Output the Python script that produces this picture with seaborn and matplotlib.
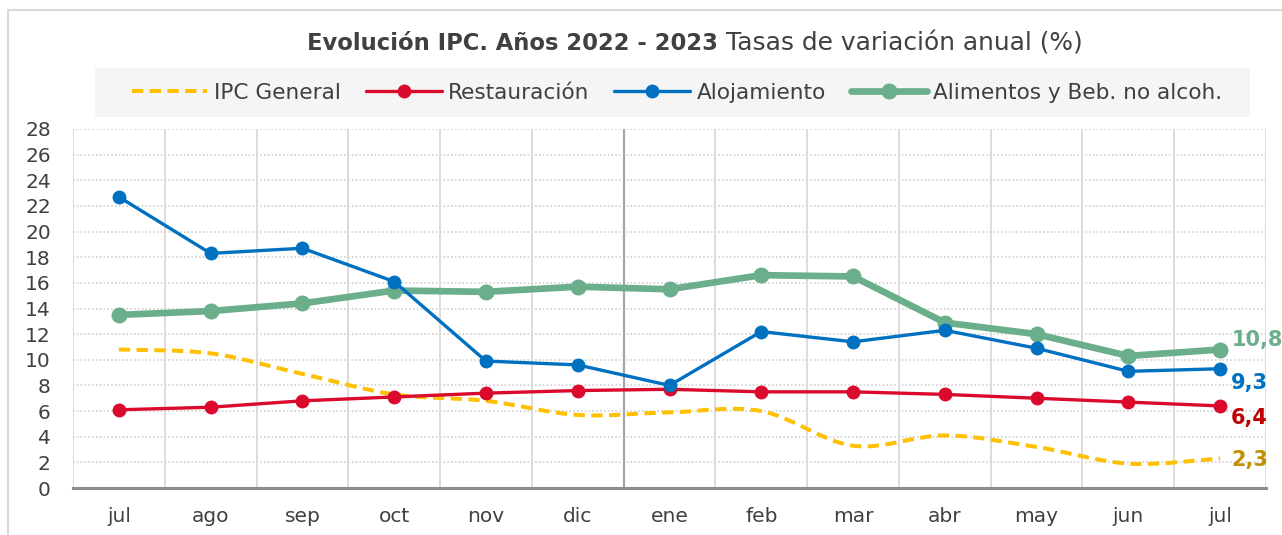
import numpy as np
import pandas as pd
import seaborn as sns
import matplotlib.pyplot as plt
from matplotlib.lines import Line2D
from matplotlib.path import Path
from matplotlib.patches import PathPatch, Rectangle

months = ['jul', 'ago', 'sep', 'oct', 'nov', 'dic', 'ene', 'feb', 'mar', 'abr', 'may', 'jun', 'jul']
ipc_general = [10.8, 10.5, 8.9, 7.3, 6.8, 5.7, 5.9, 6.0, 3.3, 4.1, 3.2, 1.9, 2.3]
restauracion = [6.1, 6.3, 6.8, 7.1, 7.4, 7.6, 7.7, 7.5, 7.5, 7.3, 7.0, 6.7, 6.4]
alojamiento = [22.7, 18.3, 18.7, 16.1, 9.9, 9.6, 8.0, 12.2, 11.4, 12.3, 10.9, 9.1, 9.3]
alimentos = [13.5, 13.8, 14.4, 15.4, 15.3, 15.7, 15.5, 16.6, 16.5, 12.9, 12.0, 10.3, 10.8]

C_IPC = '#FFC000'
C_RES = '#D90A2C'
C_ALO = '#0070C0'
C_ALI = '#6AAE8C'
TXT = '#404040'
DASH = (0, (2.8, 1.6))

sns.set_theme(style='white')
plt.rcParams['font.family'] = ['DejaVu Sans']

fig = plt.figure(figsize=(12.82, 5.35), dpi=100)
ax = fig.add_axes([73 / 1282, 1 - 488 / 535, (1266 - 73) / 1282, (488 - 129) / 535])

pos = np.arange(len(months))
df = pd.DataFrame({'pos': pos, 'res': restauracion, 'alo': alojamiento, 'ali': alimentos})

# IPC General: smoothed dashed line (Excel-style bezier between the points)
pts = np.column_stack([pos, ipc_general]).astype(float)
verts = [pts[0]]
codes = [Path.MOVETO]
for i in range(len(pts) - 1):
    p0 = pts[max(i - 1, 0)]
    p1, p2 = pts[i], pts[i + 1]
    p3 = pts[min(i + 2, len(pts) - 1)]
    verts += [p1 + (p2 - p0) / 6, p2 - (p3 - p1) / 6, p2]
    codes += [Path.CURVE4] * 3
ax.add_patch(PathPatch(Path(verts, codes), fill=False, edgecolor=C_IPC, lw=2.9,
                       linestyle=DASH, capstyle='butt', zorder=3))

sns.lineplot(data=df, x='pos', y='res', ax=ax, color=C_RES, lw=2.4, marker='o',
             markersize=10, markeredgewidth=0, zorder=4)
sns.lineplot(data=df, x='pos', y='alo', ax=ax, color=C_ALO, lw=2.4, marker='o',
             markersize=10, markeredgewidth=0, zorder=5)
sns.lineplot(data=df, x='pos', y='ali', ax=ax, color=C_ALI, lw=4.8, marker='o',
             markersize=11.5, markeredgewidth=0, zorder=4)

ax.set_xlim(-0.5, len(months) - 0.5)
ax.set_ylim(0, 28)
ax.set_yticks(range(0, 29, 2))
ax.set_xticks(pos)
ax.set_xticklabels(months)
ax.set_xlabel('')
ax.set_ylabel('')
ax.tick_params(axis='both', labelsize=14.5, colors=TXT, length=0)
ax.tick_params(axis='x', pad=14)
ax.tick_params(axis='y', pad=16)

for y in range(2, 29, 2):
    ax.axhline(y, color='#C8C8C8', lw=1.1, ls=(0, (1, 1.5)), zorder=1)
for x in np.arange(-0.5, len(months), 1.0):
    ax.axvline(x, color='#D9D9D9', lw=1.3, zorder=1)
ax.axvline(5.5, color='#A6A6A6', lw=1.6, zorder=2)

for s in ['top', 'right', 'left']:
    ax.spines[s].set_visible(False)
ax.spines['bottom'].set_color('#8C8C8C')
ax.spines['bottom'].set_linewidth(2.2)
ax.spines['bottom'].set_zorder(6)

# last value labels
last = len(months) - 1
for vals, col, dy in [(alimentos, C_ALI, 7), (alojamiento, '#0070C0', -10),
                      (restauracion, '#C00000', -9), (ipc_general, '#BF9000', -1)]:
    ax.annotate(f'{vals[-1]:.1f}'.replace('.', ','), (last, vals[-1]),
                xytext=(8, dy), textcoords='offset points', ha='left', va='center',
                fontsize=15, fontweight='bold', color=col, annotation_clip=False)

# outer frame
fig.patches.append(Rectangle((8 / 1282, -0.05), 1.2, 1 - 10 / 535 + 0.05,
                             transform=fig.transFigure, fill=False,
                             edgecolor='#D9D9D9', lw=1.5, zorder=0))

# title
fig.text(718 / 1282, 1 - 44 / 535, 'Evolución IPC. Años 2022 - 2023', ha='right', va='center',
         fontsize=16.3, fontweight='bold', color=TXT)
fig.text(726 / 1282, 1 - 44 / 535, 'Tasas de variación anual (%)', ha='left', va='center',
         fontsize=17.9, color=TXT)

# legend
fig.patches.append(Rectangle((95 / 1282, 1 - 117 / 535), (1250 - 95) / 1282, 49 / 535,
                             transform=fig.transFigure, facecolor='#F5F5F5',
                             edgecolor='none', zorder=0))
handles = [
    Line2D([], [], color=C_IPC, lw=2.9, ls=DASH, dash_capstyle='butt'),
    Line2D([], [], color=C_RES, lw=2.4, marker='o', markersize=10, markeredgewidth=0),
    Line2D([], [], color=C_ALO, lw=2.4, marker='o', markersize=10, markeredgewidth=0),
    Line2D([], [], color=C_ALI, lw=4.8, marker='o', markersize=11.5, markeredgewidth=0),
]
labels = ['IPC General', 'Restauración', 'Alojamiento', 'Alimentos y Beb. no alcoh.']
leg = fig.legend(handles, labels, loc='center', bbox_to_anchor=(677 / 1282, 1 - 93 / 535),
                 ncol=4, frameon=False, fontsize=15.6, handlelength=3.5,
                 handletextpad=0.3, columnspacing=1.15)
for t in leg.get_texts():
    t.set_color(TXT)

fig.savefig('out.png', dpi=100)
